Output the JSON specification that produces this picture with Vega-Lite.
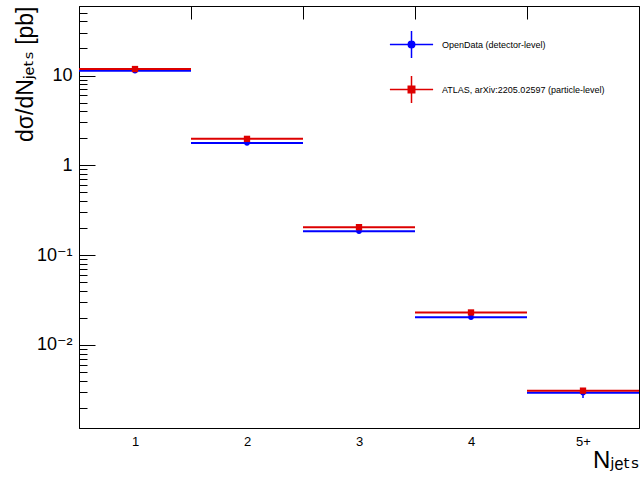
{
  "$schema": "https://vega.github.io/schema/vega-lite/v6.json",
  "width": 560,
  "height": 422,
  "autosize": "none",
  "padding": {"left": 79, "top": 6, "right": 1, "bottom": 51},
  "background": "white",
  "config": {
    "font": "'Liberation Sans', 'DejaVu Sans', sans-serif",
    "view": {"stroke": "#000", "strokeWidth": 1}
  },
  "data": {
    "values": [
      {"n": "1", "series": "OpenData (detector-level)", "xs": 11.3, "lo": null, "hi": null},
      {"n": "2", "series": "OpenData (detector-level)", "xs": 1.77, "lo": null, "hi": null},
      {"n": "3", "series": "OpenData (detector-level)", "xs": 0.185, "lo": null, "hi": null},
      {"n": "4", "series": "OpenData (detector-level)", "xs": 0.0204, "lo": null, "hi": null},
      {"n": "5+", "series": "OpenData (detector-level)", "xs": 0.00293, "lo": 0.00256, "hi": 0.0033},
      {"n": "1", "series": "ATLAS, arXiv:2205.02597 (particle-level)", "xs": 11.8, "lo": null, "hi": null},
      {"n": "2", "series": "ATLAS, arXiv:2205.02597 (particle-level)", "xs": 1.97, "lo": null, "hi": null},
      {"n": "3", "series": "ATLAS, arXiv:2205.02597 (particle-level)", "xs": 0.205, "lo": null, "hi": null},
      {"n": "4", "series": "ATLAS, arXiv:2205.02597 (particle-level)", "xs": 0.023, "lo": null, "hi": null},
      {"n": "5+", "series": "ATLAS, arXiv:2205.02597 (particle-level)", "xs": 0.0031, "lo": null, "hi": null}
    ]
  },
  "encoding": {
    "x": {
      "field": "n",
      "type": "ordinal",
      "sort": ["1", "2", "3", "4", "5+"],
      "scale": {"paddingInner": 0, "paddingOuter": 0},
      "axis": {
        "tickBand": "extent",
        "ticks": false,
        "tickSize": 0,
        "grid": true,
        "gridColor": "#000",
        "gridOpacity": 1,
        "gridWidth": 1,
        "gridDash": [13, 2000],
        "domainColor": "#000",
        "labelAngle": 0,
        "labelFontSize": 13,
        "labelColor": "#000",
        "labelPadding": 7,
        "title": "Nⱼₑₜₛ",
        "titleFontSize": 24,
        "titleFontWeight": "normal",
        "titleColor": "#000",
        "titleAnchor": "end",
        "titleAlign": "right",
        "titleBaseline": "alphabetic",
        "titleX": 560,
        "titleY": 39
      }
    },
    "color": {
      "field": "series",
      "type": "nominal",
      "scale": {
        "domain": ["OpenData (detector-level)", "ATLAS, arXiv:2205.02597 (particle-level)"],
        "range": ["#0000ff", "#dd0000"]
      },
      "legend": {
        "orient": "none",
        "legendX": 318,
        "legendY": 24,
        "title": null,
        "padding": 0,
        "rowPadding": 12,
        "symbolSize": 729,
        "symbolStrokeWidth": 1.5,
        "symbolType": "M-1.6,0H1.6M0,-1V1",
        "labelFontSize": 9,
        "labelColor": "#000",
        "labelOffset": 16,
        "labelLimit": 400,
        "encode": {
          "symbols": {
            "update": {
              "shape": {"signal": "datum.value === 'OpenData (detector-level)' ? 'M-1.6,0H1.6M0,-1V1M0.24,0A0.24,0.24,0,1,1,-0.24,0A0.24,0.24,0,1,1,0.24,0Z' : 'M-1.6,0H1.6M0,-1V1M-0.24,-0.24H0.24V0.24H-0.24Z'"},
              "strokeWidth": {"value": 1.5},
              "opacity": {"value": 1}
            }
          }
        }
      }
    }
  },
  "layer": [
    {
      "mark": {"type": "tick", "size": 112, "thickness": 2, "opacity": 1},
      "encoding": {
        "y": {
          "field": "xs",
          "type": "quantitative",
          "scale": {"type": "log", "domain": [0.00119, 59.4], "nice": false},
          "axis": {
            "values": [0.002, 0.003, 0.004, 0.005, 0.006, 0.007, 0.008, 0.009, 0.01, 0.02, 0.03, 0.04, 0.05, 0.06, 0.07, 0.08, 0.09, 0.1, 0.2, 0.3, 0.4, 0.5, 0.6, 0.7, 0.8, 0.9, 1, 2, 3, 4, 5, 6, 7, 8, 9, 10, 20, 30, 40, 50],
            "labelExpr": "datum.value === 10 ? '10' : datum.value === 1 ? '1' : datum.value === 0.1 ? '10⁻¹' : datum.value === 0.01 ? '10⁻²' : ''",
            "ticks": false,
            "tickSize": 0,
            "grid": true,
            "gridColor": "#000",
            "gridOpacity": 1,
            "gridWidth": 1,
            "gridDash": {
              "condition": {"test": "abs(log(datum.value)/LN10 - round(log(datum.value)/LN10)) < 0.001", "value": [16, 2000]},
              "value": [8, 2000]
            },
            "domainColor": "#000",
            "labelFontSize": 18,
            "labelColor": "#000",
            "labelPadding": 7,
            "labelOverlap": false,
            "labelFlush": false,
            "title": "dσ/dNⱼₑₜₛ [pb]",
            "titleFontSize": 23,
            "titleFontWeight": "normal",
            "titleColor": "#000",
            "titleAnchor": "end",
            "titleAlign": "right",
            "titleAngle": -90,
            "titleBaseline": "bottom",
            "titleX": -42,
            "titleY": 0
          }
        }
      }
    },
    {
      "mark": {"type": "rule", "strokeWidth": 1.5},
      "encoding": {
        "y": {
          "field": "lo",
          "type": "quantitative",
          "scale": {"type": "log", "domain": [0.00119, 59.4], "nice": false}
        },
        "y2": {"field": "hi"}
      }
    },
    {
      "transform": [{"filter": "datum.series === 'OpenData (detector-level)'"}],
      "mark": {"type": "point", "shape": "circle", "size": 30, "filled": true, "opacity": 1},
      "encoding": {
        "y": {
          "field": "xs",
          "type": "quantitative",
          "scale": {"type": "log", "domain": [0.00119, 59.4], "nice": false}
        }
      }
    },
    {
      "transform": [{"filter": "datum.series !== 'OpenData (detector-level)'"}],
      "mark": {"type": "point", "shape": "square", "size": 40, "filled": true, "opacity": 1},
      "encoding": {
        "y": {
          "field": "xs",
          "type": "quantitative",
          "scale": {"type": "log", "domain": [0.00119, 59.4], "nice": false}
        }
      }
    }
  ]
}
